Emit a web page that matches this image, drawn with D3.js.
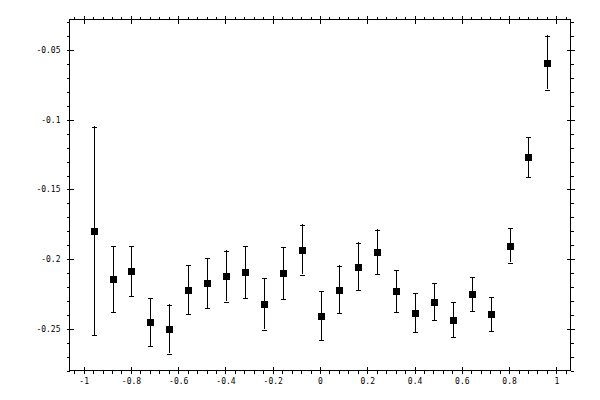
<!DOCTYPE html>
<html>
<head>
<meta charset="utf-8">
<script src="https://cdn.jsdelivr.net/npm/d3@7"></script>
<style>
  body { margin: 0; background: #fff; }
  svg { display: block; }
  .tick text { font-family: "DejaVu Sans Mono", monospace; font-size: 8px; fill: #000; }
</style>
</head>
<body>
<svg id="chart" width="600" height="400"></svg>
<script>
// data
var xValues = [-0.96, -0.88, -0.80, -0.72, -0.64, -0.56, -0.48, -0.40, -0.32, -0.24, -0.16, -0.08,
               0, 0.08, 0.16, 0.24, 0.32, 0.40, 0.48, 0.56, 0.64, 0.72, 0.80, 0.88, 0.96];
var yValues = [-0.1795, -0.2141, -0.2083, -0.2450, -0.2500, -0.2218, -0.2169, -0.2121, -0.2090, -0.2319, -0.2097, -0.1930,
               -0.2402, -0.2215, -0.2050, -0.1946, -0.2226, -0.2382, -0.2302, -0.2431, -0.2248, -0.2392, -0.1899, -0.1264, -0.0588];
var yErrors = [0.0748, 0.0237, 0.0180, 0.0172, 0.0176, 0.0176, 0.0180, 0.0183, 0.0187, 0.0186, 0.0187, 0.0179,
               0.0176, 0.0169, 0.0169, 0.0159, 0.0151, 0.0140, 0.0133, 0.0125, 0.0122, 0.0122, 0.0125, 0.0144, 0.0194];
var xMajorTicks = [-1, -0.8, -0.6, -0.4, -0.2, 0, 0.2, 0.4, 0.6, 0.8, 1];
var xTickLabels = ["-1", "-0.8", "-0.6", "-0.4", "-0.2", "0", "0.2", "0.4", "0.6", "0.8", "1"];
var yMajorTicks = [-0.25, -0.2, -0.15, -0.1, -0.05];
var yTickLabels = ["-0.25", "-0.2", "-0.15", "-0.1", "-0.05"];
var xMinorTicks = d3.range(-26, 27).map(function(i){ return i * 0.04; });
var yMinorTicks = d3.range(28, 2, -1).map(function(i){ return -i * 0.01; });

var svg = d3.select("#chart"),
    margin = {top: 19.5, right: 29.5, bottom: 29.5, left: 69.5},
    width = 600 - margin.left - margin.right,
    height = 400 - margin.top - margin.bottom,
    g = svg.append("g").attr("transform", "translate(" + margin.left + "," + margin.top + ")");

var x = d3.scaleLinear().domain([-1.06, 1.06]).range([0, width]);
var y = d3.scaleLinear().domain([-0.28, -0.028]).range([height, 0]);

function fmt(ticks, labels) {
  return function(d) {
    var i = ticks.indexOf(d);
    return i > -1 ? labels[i] : "";
  };
}

function styleAxis(sel, crossAttr, crossVal) {
  sel.select(".domain").remove();
  sel.selectAll(".tick line")
     .attr("stroke", "#000")
     .attr("shape-rendering", "crispEdges");
  if (crossAttr) sel.selectAll(".tick line").attr(crossAttr, crossVal);
}

// minor ticks (outward only)
g.append("g").attr("transform", "translate(0," + height + ")")
  .call(d3.axisBottom(x).tickValues(xMinorTicks).tickSize(3).tickFormat(""))
  .call(styleAxis);
g.append("g")
  .call(d3.axisTop(x).tickValues(xMinorTicks).tickSize(3).tickFormat(""))
  .call(styleAxis);
g.append("g")
  .call(d3.axisLeft(y).tickValues(yMinorTicks).tickSize(3).tickFormat(""))
  .call(styleAxis);
g.append("g").attr("transform", "translate(" + width + ",0)")
  .call(d3.axisRight(y).tickValues(yMinorTicks).tickSize(3).tickFormat(""))
  .call(styleAxis);

// major ticks (cross the frame)
g.append("g").attr("transform", "translate(0," + height + ")")
  .call(d3.axisBottom(x).tickValues(xMajorTicks).tickSize(3).tickPadding(5).tickFormat(fmt(xMajorTicks, xTickLabels)))
  .call(styleAxis, "y1", -4);
g.append("g")
  .call(d3.axisTop(x).tickValues(xMajorTicks).tickSize(4).tickFormat(""))
  .call(styleAxis, "y1", 4);
g.append("g")
  .call(d3.axisLeft(y).tickValues(yMajorTicks).tickSize(3).tickPadding(6).tickFormat(fmt(yMajorTicks, yTickLabels)))
  .call(styleAxis, "x1", 4);
g.append("g").attr("transform", "translate(" + width + ",0)")
  .call(d3.axisRight(y).tickValues(yMajorTicks).tickSize(4).tickFormat(""))
  .call(styleAxis, "x1", -4);

// frame
g.append("rect")
  .attr("width", width).attr("height", height)
  .attr("fill", "none").attr("stroke", "#000")
  .attr("shape-rendering", "crispEdges");

var points = xValues.map(function(d, i){ return {x: d, y: yValues[i], e: yErrors[i]}; });

var bars = g.selectAll(".bar").data(points).enter().append("g").attr("class", "bar")
  .attr("stroke", "#000").attr("shape-rendering", "crispEdges");

bars.append("line")
  .attr("x1", function(d){ return Math.round(x(d.x)) + 0.5; })
  .attr("x2", function(d){ return Math.round(x(d.x)) + 0.5; })
  .attr("y1", function(d){ return y(d.y + d.e); })
  .attr("y2", function(d){ return y(d.y - d.e); });
bars.append("line")
  .attr("x1", function(d){ return Math.round(x(d.x)) - 2; })
  .attr("x2", function(d){ return Math.round(x(d.x)) + 3; })
  .attr("y1", function(d){ return Math.round(y(d.y + d.e)) + 0.5; })
  .attr("y2", function(d){ return Math.round(y(d.y + d.e)) + 0.5; });
bars.append("line")
  .attr("x1", function(d){ return Math.round(x(d.x)) - 2; })
  .attr("x2", function(d){ return Math.round(x(d.x)) + 3; })
  .attr("y1", function(d){ return Math.round(y(d.y - d.e)) + 0.5; })
  .attr("y2", function(d){ return Math.round(y(d.y - d.e)) + 0.5; });

g.selectAll(".marker").data(points).enter().append("rect")
  .attr("class", "marker")
  .attr("x", function(d){ return Math.round(x(d.x)) - 3; })
  .attr("y", function(d){ return Math.round(y(d.y)) - 3; })
  .attr("width", 7).attr("height", 7)
  .attr("fill", "#000")
  .attr("shape-rendering", "crispEdges");
</script>
</body>
</html>
